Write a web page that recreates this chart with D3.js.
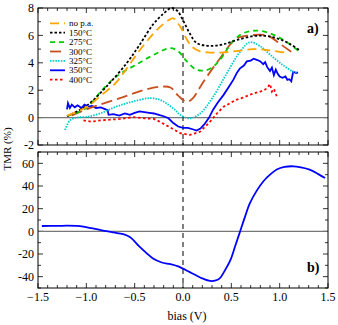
<!DOCTYPE html>
<html>
<head>
<meta charset="utf-8">
<script src="https://cdn.jsdelivr.net/npm/d3@7"></script>
<style>
  body { margin: 0; background: #fff; }
  text { font-family: "Liberation Serif", "Times New Roman", serif; }
</style>
</head>
<body>
<svg id="chart" width="338" height="325"></svg>
<script>
// ---- data ----
var seriesNames = ["no p.a.", "150°C", "275°C", "300°C", "325°C", "350°C", "400°C"];

var noPa = [[-1.2,0.15],[-1.0,0.75],[-0.85,1.6],[-0.7,2.5],[-0.58,3.6],[-0.45,4.9],[-0.27,6.4],[-0.15,7.1],[-0.1,7.25],[-0.03,6.65],[0.04,5.7],[0.09,5.2],[0.17,4.85],[0.28,4.75],[0.4,4.75],[0.55,4.85],[0.72,5.0],[0.85,4.95],[1.0,4.8],[1.05,4.75]];
var t150 = [[-1.2,0.1],[-1.0,0.85],[-0.8,2.2],[-0.58,4.0],[-0.45,5.3],[-0.31,6.8],[-0.2,7.6],[-0.12,8.0],[-0.06,7.8],[0,7.1],[0.07,6.15],[0.14,5.45],[0.24,5.25],[0.33,5.25],[0.42,5.35],[0.55,5.65],[0.73,5.95],[0.87,5.95],[1.0,5.72],[1.1,5.4],[1.2,4.95]];
var t275 = [[-1.2,0.1],[-1.0,0.7],[-0.85,1.9],[-0.69,3.0],[-0.45,4.0],[-0.27,4.7],[-0.13,5.07],[-0.05,4.85],[0.04,4.1],[0.14,3.5],[0.23,3.45],[0.3,3.65],[0.38,4.2],[0.52,5.6],[0.62,6.15],[0.76,6.35],[0.9,6.15],[1.03,5.7],[1.19,4.9]];
var t300 = [[-1.15,0.15],[-1.0,0.6],[-0.86,0.95],[-0.62,1.5],[-0.41,2.0],[-0.24,2.25],[-0.13,2.2],[-0.05,1.6],[0.04,1.15],[0.1,1.4],[0.21,2.6],[0.38,4.3],[0.55,5.75],[0.69,6.0],[0.87,6.0],[1.0,5.4],[1.12,4.8]];
var t325 = [[-1.22,-0.9],[-1.17,-0.2],[-1.1,0.0],[-1.0,0.05],[-0.86,0.3],[-0.69,0.8],[-0.52,1.17],[-0.34,1.42],[-0.24,1.3],[-0.15,0.93],[-0.08,0.55],[-0.03,0.2],[0.07,-0.05],[0.18,0.32],[0.31,1.5],[0.45,3.2],[0.59,4.8],[0.69,5.5],[0.8,5.2],[0.9,4.6],[1.03,3.85],[1.14,3.36],[1.19,3.3]];
var t350 = [[-1.2,0.6],[-1.19,1.05],[-1.17,0.7],[-1.15,0.95],[-1.12,0.75],[-1.09,0.9],[-1.05,0.7],[-1.02,0.95],[-0.98,0.8],[-0.94,0.85],[-0.9,0.7],[-0.85,0.75],[-0.8,0.6],[-0.78,0.55],[-0.77,0.2],[-0.72,0.25],[-0.66,0.15],[-0.6,0.3],[-0.55,0.2],[-0.5,0.35],[-0.45,0.45],[-0.4,0.4],[-0.35,0.35],[-0.3,0.3],[-0.25,0.2],[-0.2,0.1],[-0.15,-0.05],[-0.1,-0.4],[-0.05,-0.65],[0,-0.75],[0.05,-0.75],[0.1,-0.85],[0.14,-0.95],[0.18,-0.8],[0.22,-0.5],[0.27,0.0],[0.31,0.56],[0.36,1.1],[0.42,1.66],[0.47,2.2],[0.52,2.75],[0.56,3.3],[0.59,3.6],[0.63,3.8],[0.66,4.1],[0.7,4.15],[0.73,4.3],[0.77,4.2],[0.8,4.1],[0.83,3.9],[0.85,4.05],[0.87,3.7],[0.9,3.4],[0.92,3.65],[0.94,3.1],[0.96,3.5],[0.98,3.2],[1.0,3.0],[1.03,2.9],[1.06,3.0],[1.08,2.75],[1.1,2.8],[1.12,2.65],[1.14,3.35],[1.17,3.25],[1.19,3.3]];
var t400 = [[-1.03,-0.2],[-0.95,-0.3],[-0.85,-0.2],[-0.75,-0.15],[-0.65,-0.1],[-0.52,0.03],[-0.4,-0.05],[-0.3,-0.1],[-0.24,-0.3],[-0.15,-0.65],[-0.1,-0.85],[-0.03,-1.14],[0.07,-1.26],[0.18,-1.02],[0.28,-0.3],[0.35,0.3],[0.42,0.8],[0.5,1.1],[0.55,1.3],[0.62,1.45],[0.69,1.66],[0.75,1.8],[0.8,1.9],[0.84,2.0],[0.87,2.15],[0.9,2.45],[0.92,1.9],[0.94,2.1],[0.97,1.55]];

var tmrB = [[-1.46,4.7],[-1.3,4.8],[-1.2,5.0],[-1.1,4.8],[-1.03,4.1],[-0.95,2.8],[-0.86,1.2],[-0.72,-1.0],[-0.62,-2.5],[-0.55,-5],[-0.45,-13.5],[-0.38,-19],[-0.31,-24],[-0.22,-27.5],[-0.13,-29],[-0.05,-31],[0,-32.9],[0.07,-36],[0.14,-39],[0.2,-41.5],[0.28,-43.8],[0.33,-43.5],[0.38,-41.5],[0.43,-35],[0.49,-25.5],[0.54,-13],[0.59,-0.3],[0.64,12.5],[0.69,24.5],[0.76,35.5],[0.83,44],[0.9,50],[0.97,54.5],[1.05,56.8],[1.14,57.4],[1.22,56.5],[1.31,54.5],[1.4,50.5],[1.47,47]];

var xTicks = [-1.5, -1.0, -0.5, 0.0, 0.5, 1.0, 1.5];
var yTicksA = [-2, 0, 2, 4, 6, 8];
var yTicksB = [-40, -20, 0, 20, 40, 60];

// styles per series
var seriesData = [noPa, t150, t275, t300, t325, t350, t400];
var colors = ["#ffa500", "#000000", "#00cc00", "#c8501e", "#00cccc", "#0000ff", "#ff0000"];
var dashes = ["9,5", "2.5,2", "5,4", "11,5", "1.5,1.2", null, "2.5,2.5"];
var curves = [d3.curveCatmullRom, d3.curveCatmullRom, d3.curveCatmullRom, d3.curveCatmullRom, d3.curveCatmullRom, d3.curveLinear, d3.curveLinear];

var svg = d3.select("#chart");

var x = d3.scaleLinear().domain([-1.5, 1.5]).range([38, 328]);
var yA = d3.scaleLinear().domain([-2, 8]).range([145, 8]);
var yB = d3.scaleLinear().domain([-50, 70]).range([288, 152]);

function frame(y, majorY, minorStep) {
  var g = svg.append("g");
  var x0 = x.range()[0], x1 = x.range()[1];
  var yr = y.range();
  var yTop = yr[1], yBot = yr[0];

  // minor + major x ticks on top and bottom, inward
  var xMinor = d3.range(-1.5, 1.5001, 0.1);
  xMinor.forEach(function (v) {
    var major = Math.abs(v * 2 - Math.round(v * 2)) < 1e-6;
    var len = major ? 5 : 3;
    g.append("line").attr("x1", x(v)).attr("x2", x(v)).attr("y1", yBot).attr("y2", yBot - len)
      .attr("stroke", "#000").attr("stroke-width", 0.8);
    g.append("line").attr("x1", x(v)).attr("x2", x(v)).attr("y1", yTop).attr("y2", yTop + len)
      .attr("stroke", "#000").attr("stroke-width", 0.8);
  });

  var d = y.domain();
  var yMinor = d3.range(d[0], d[1] + 1e-6, minorStep);
  yMinor.forEach(function (v) {
    var major = majorY.indexOf(v) >= 0;
    var len = major ? 5 : 3;
    g.append("line").attr("x1", x0).attr("x2", x0 + len).attr("y1", y(v)).attr("y2", y(v))
      .attr("stroke", "#000").attr("stroke-width", 0.8);
    g.append("line").attr("x1", x1).attr("x2", x1 - len).attr("y1", y(v)).attr("y2", y(v))
      .attr("stroke", "#000").attr("stroke-width", 0.8);
  });

  // y tick labels
  g.selectAll(".ylab").data(majorY).join("text")
    .attr("x", x0 - 4).attr("y", function (v) { return y(v); })
    .attr("dy", "0.35em").attr("text-anchor", "end")
    .attr("font-size", 12).text(function (v) { return v; });

  // zero line and dashed line at bias 0
  g.append("line").attr("x1", x0).attr("x2", x1).attr("y1", y(0)).attr("y2", y(0))
    .attr("stroke", "#777").attr("stroke-width", 1.2);
  g.append("line").attr("x1", x(0)).attr("x2", x(0)).attr("y1", yTop).attr("y2", yBot)
    .attr("stroke", "#000").attr("stroke-width", 1).attr("stroke-dasharray", "5,4");

  g.append("rect").attr("x", x0).attr("y", yTop).attr("width", x1 - x0).attr("height", yBot - yTop)
    .attr("fill", "none").attr("stroke", "#000").attr("stroke-width", 1);
}

frame(yA, yTicksA, 1);
frame(yB, yTicksB, 10);

// top panel curves
var plotA = svg.append("g");
for (var i = seriesData.length - 1; i >= 0; i--) {
  var line = d3.line().x(function (d) { return x(d[0]); }).y(function (d) { return yA(d[1]); }).curve(curves[i]);
  plotA.append("path").datum(seriesData[i]).attr("d", line)
    .attr("fill", "none").attr("stroke", colors[i]).attr("stroke-width", 1.8)
    .attr("stroke-dasharray", dashes[i]);
}

// bottom panel curve
var lineB = d3.line().x(function (d) { return x(d[0]); }).y(function (d) { return yB(d[1]); }).curve(d3.curveCatmullRom);
svg.append("path").datum(tmrB).attr("d", lineB)
  .attr("fill", "none").attr("stroke", "#0000ff").attr("stroke-width", 1.8);

// legend
var legend = svg.append("g");
seriesNames.forEach(function (name, i) {
  var ly = 23.3 + i * 9.4;
  legend.append("line").attr("x1", 50).attr("x2", 65).attr("y1", ly).attr("y2", ly)
    .attr("stroke", colors[i]).attr("stroke-width", 1.8).attr("stroke-dasharray", dashes[i]);
  legend.append("text").attr("x", 69).attr("y", ly).attr("dy", "0.35em")
    .attr("font-size", 9).text(name);
});

// x tick labels (bottom panel)
svg.selectAll(".xlab").data(xTicks).join("text")
  .attr("x", function (v) { return x(v); }).attr("y", 301)
  .attr("text-anchor", "middle").attr("font-size", 12)
  .text(function (v) { return d3.format(".1f")(v); });

// axis titles
svg.append("text").attr("x", x(0) + 4).attr("y", 320).attr("text-anchor", "middle")
  .attr("font-size", 12).text("bias (V)");
svg.append("text").attr("transform", "translate(11,149) rotate(-90)")
  .attr("text-anchor", "middle").attr("font-size", 11).text("TMR (%)");

// panel labels
svg.append("text").attr("x", 307).attr("y", 33).attr("font-size", 14).attr("font-weight", "bold").text("a)");
svg.append("text").attr("x", 307).attr("y", 272).attr("font-size", 14).attr("font-weight", "bold").text("b)");
</script>
</body>
</html>
